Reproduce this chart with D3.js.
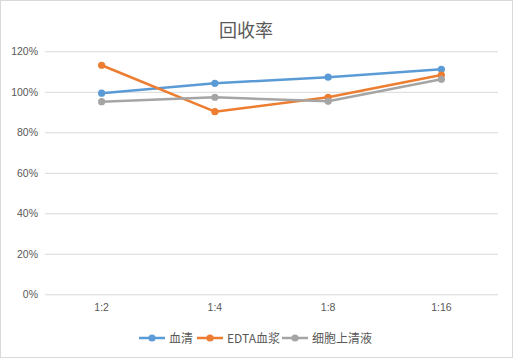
<!DOCTYPE html>
<html><head><meta charset="utf-8">
<script src="https://cdn.jsdelivr.net/npm/d3@7"></script>
<style>body{margin:0;background:#fff}svg{display:block}</style>
</head><body>
<script>
const categories = ["1:2","1:4","1:8","1:16"];
const seriesNames = ["血清","EDTA血浆","细胞上清液"];
const serum = [99.3,104.2,107.2,111.1];
const edta = [113.1,90.2,97.3,108.3];
const cell = [95.1,97.3,95.3,106.2];
const yTicks = [0,20,40,60,80,100,120];
const colors = ["#5B9BD5","#ED7D31","#A5A5A5"];
const allSeries = [serum, edta, cell];

const W=513,H=358;
const svg=d3.select("body").append("svg").attr("width",W).attr("height",H);
svg.append("rect").attr("x",0.5).attr("y",0.5).attr("width",W-1).attr("height",H-1).attr("fill","#fff").attr("stroke","#d9d9d9");
const font="'Noto Sans CJK SC','Liberation Sans',sans-serif";
const x=d3.scaleBand().domain(categories).range([45,498]);
const y=d3.scaleLinear().domain([0,120]).range([294.3,51.3]);

svg.append("text").attr("x",246).attr("y",37).attr("text-anchor","middle").attr("font-family",font).attr("font-size",18).attr("fill","#595959").text("回收率");

const gy=svg.append("g").attr("transform","translate(45,0)").call(d3.axisLeft(y).tickValues(yTicks).tickSize(-453).tickFormat(d=>d+"%"));
gy.select(".domain").remove();
gy.selectAll("line").attr("stroke","#d9d9d9");
gy.selectAll("text").attr("x",-7).attr("font-family","'Liberation Sans',Arial,sans-serif").attr("font-size",10.5).attr("fill","#595959");

const gx=svg.append("g").attr("transform","translate(0,294.3)").call(d3.axisBottom(x).tickSize(0));
gx.select(".domain").remove();
gx.selectAll("text").attr("dy","0.71em").attr("y",9).attr("font-family","'Liberation Sans',Arial,sans-serif").attr("font-size",10.5).attr("fill","#595959");

const line=d3.line().x((d,i)=>x(categories[i])+x.bandwidth()/2).y(d=>y(d));
allSeries.forEach((s,k)=>{
  svg.append("path").datum(s).attr("d",line).attr("fill","none").attr("stroke",colors[k]).attr("stroke-width",2.5).attr("stroke-linejoin","round");
  svg.selectAll(null).data(s).enter().append("circle").attr("cx",(d,i)=>x(categories[i])+x.bandwidth()/2).attr("cy",d=>y(d)).attr("r",3.6).attr("fill",colors[k]);
});

const legX=[139,197,282];
seriesNames.forEach((n,k)=>{
  const g=svg.append("g").attr("transform",`translate(${legX[k]},338)`);
  g.append("line").attr("x1",0).attr("x2",26).attr("stroke",colors[k]).attr("stroke-width",2.5);
  g.append("circle").attr("cx",13).attr("r",3.6).attr("fill",colors[k]);
  g.append("text").attr("x",30).attr("y",4.5).attr("font-family",font).attr("font-size",12).attr("fill","#595959").text(n);
});
</script>
</body></html>
